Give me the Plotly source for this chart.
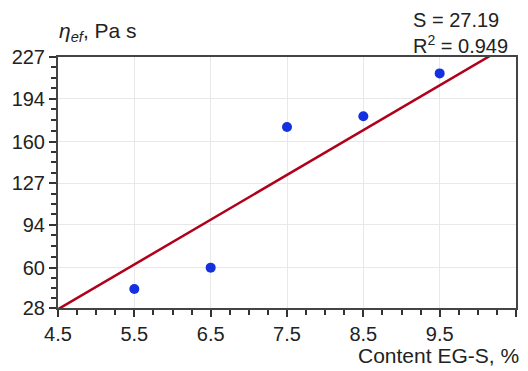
import plotly.graph_objects as go

# data
content = [5.5, 6.5, 7.5, 8.5, 9.5]
viscosity = [43, 60, 171.5, 180, 214]
fit_x = [4.5, 10.5]
fit_y = [27, 240]
x_ticks = [4.5, 5.5, 6.5, 7.5, 8.5, 9.5, 10.5]
y_ticks = [28, 60, 94, 127, 160, 194, 227]
stats_lines = ["S = 27.19", "R<sup>2</sup> = 0.949"]

# minor tick positions (3 between each pair of major ticks)
y_minor = []
for a, b in zip(y_ticks[:-1], y_ticks[1:]):
    for k in (1, 2, 3):
        y_minor.append(a + (b - a) * k / 4)

FONT = "Liberation Sans, Arial, sans-serif"
TXT = "#222222"

fig = go.Figure()
fig.add_trace(go.Scatter(x=fit_x, y=fit_y, mode="lines",
                         line=dict(color="#b0001c", width=2.5), showlegend=False))
fig.add_trace(go.Scatter(x=content, y=viscosity, mode="markers",
                         marker=dict(color="#1530e0", size=10), showlegend=False))

axis_common = dict(showline=True, linecolor="#444444", linewidth=2, mirror=True,
                   showgrid=True, gridcolor="#e8e8e8", gridwidth=1,
                   ticks="outside", ticklen=7, tickwidth=1.5, tickcolor="#333333",
                   zeroline=False, automargin=False,
                   tickfont=dict(family=FONT, size=20, color=TXT))

fig.update_xaxes(range=[4.5, 10.5], tickmode="array", tickvals=x_ticks,
                 ticktext=[f"{v:g}" for v in x_ticks],
                 minor=dict(tickmode="linear", tick0=4.5, dtick=0.25, ticks="outside",
                            ticklen=5, tickwidth=1.5, tickcolor="#333333", showgrid=False),
                 **axis_common)
fig.update_yaxes(range=[28, 227], tickmode="array", tickvals=y_ticks,
                 ticktext=[str(v) for v in y_ticks],
                 minor=dict(tickmode="array", tickvals=y_minor, ticks="outside",
                            ticklen=5, tickwidth=1.5, tickcolor="#333333", showgrid=False),
                 **axis_common)

ann_font = dict(family=FONT, size=21, color=TXT)
stat_font = dict(family=FONT, size=20, color=TXT)
fig.add_annotation(xref="paper", yref="paper", x=-0.002, y=1.1, xanchor="left", yanchor="middle",
                   text="<i>η<sub>ef</sub></i>, Pa s", showarrow=False, font=ann_font)
fig.add_annotation(xref="paper", yref="paper", x=0.773, y=1.096, xanchor="left", yanchor="middle",
                   align="left", text="<br>".join(stats_lines), showarrow=False,
                   font=stat_font, borderpad=0)
fig.add_annotation(xref="paper", yref="paper", x=1.012, y=-0.191, xanchor="right", yanchor="middle",
                   text="Content EG-S, %", showarrow=False, font=ann_font)

# the page body adds an 8px offset, so the figure is sized to fit the window
fig.update_layout(template="none", width=520, height=363,
                  margin=dict(l=50, r=12, t=49, b=63),
                  plot_bgcolor="white", paper_bgcolor="white",
                  font=dict(family=FONT, color=TXT))

fig.write_html("out.html")
